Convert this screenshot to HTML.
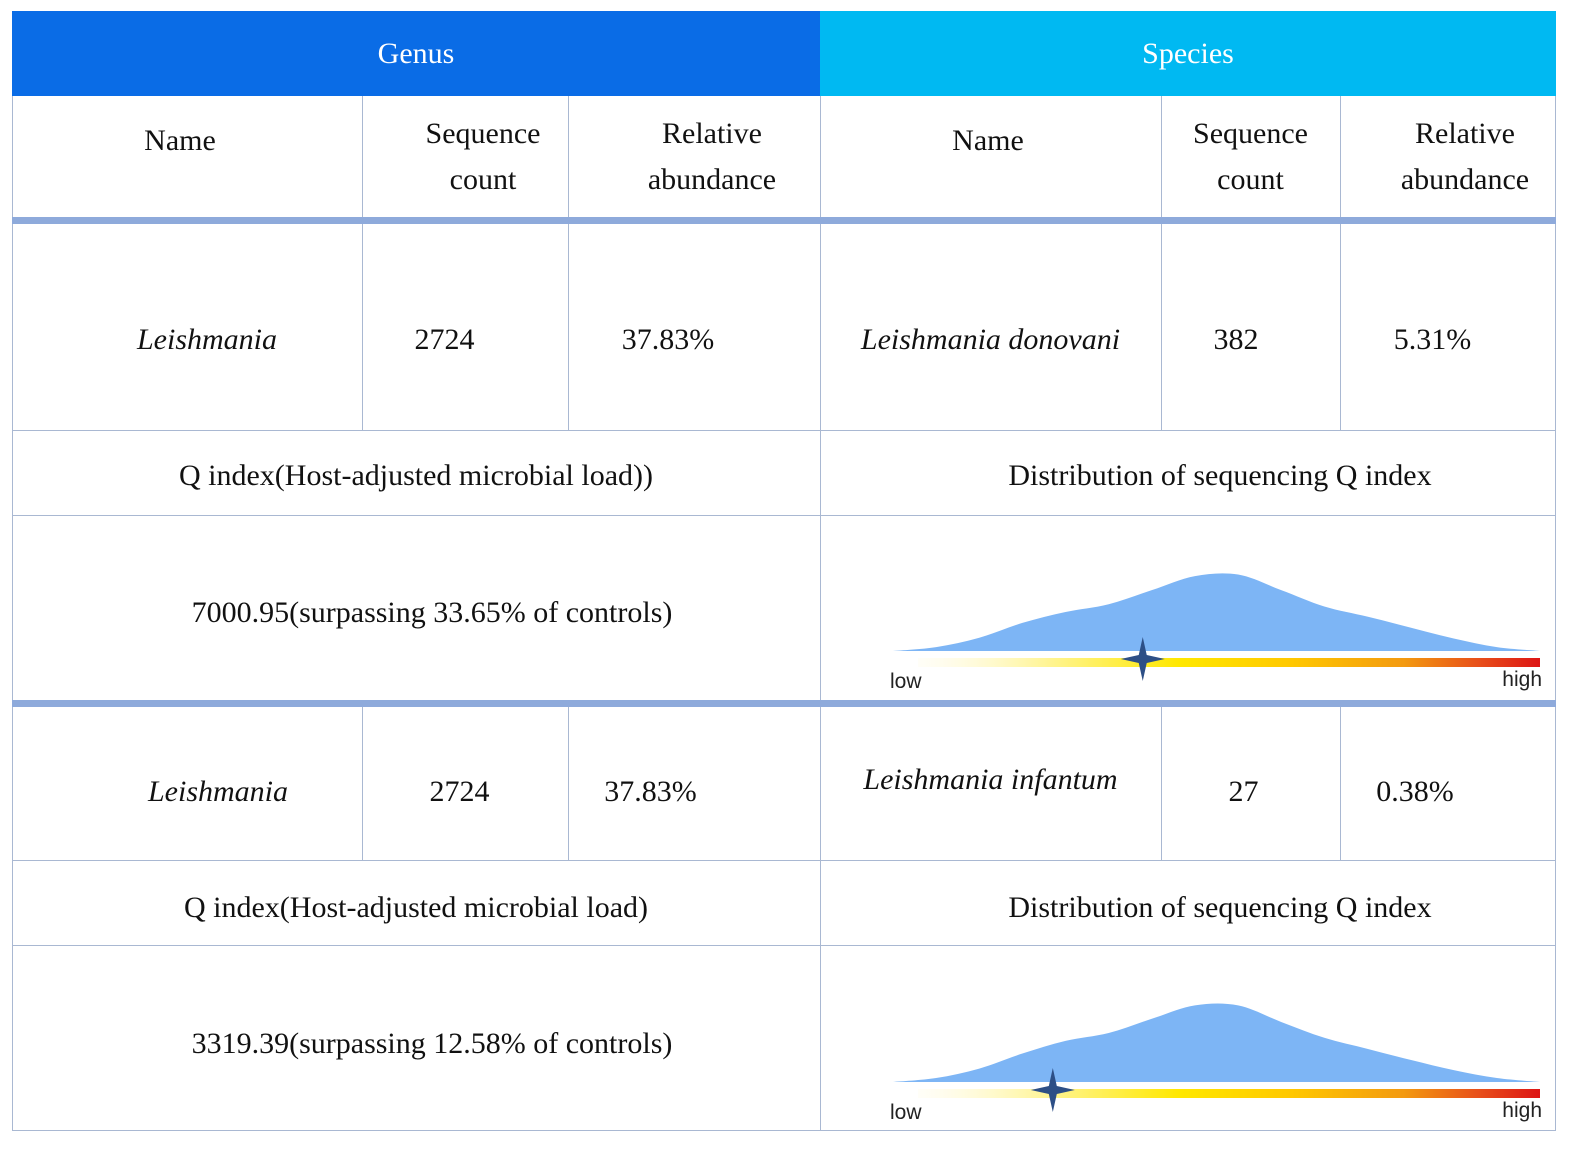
<!DOCTYPE html>
<html><head><meta charset="utf-8"><style>
body{margin:0;width:1591px;height:1158px;background:#fff;position:relative;overflow:hidden;font-family:"Liberation Serif",serif;color:#111}
.c{position:absolute;display:flex;align-items:center;justify-content:center;text-align:center;font-size:30px;line-height:46px;box-sizing:border-box}
.hl{position:absolute;background:#a9b8d2}
.thick{position:absolute;background:#8eaadb}
i{font-style:italic}
</style></head><body>
<div class="c" style="left:12px;top:11px;width:808px;height:85px;background:#0a6ce6;color:#fff">Genus</div>
<div class="c" style="left:820px;top:11px;width:736px;height:85px;background:#00b9f2;color:#fff">Species</div>

<div class="hl" style="left:12px;top:96px;width:1px;height:1035px"></div>
<div class="hl" style="left:1555px;top:96px;width:1px;height:1035px"></div>
<div class="hl" style="left:12px;top:1130px;width:1544px;height:1px"></div>
<div class="hl" style="left:820px;top:96px;width:1px;height:1035px"></div>
<div class="hl" style="left:362px;top:96px;width:1px;height:334px"></div>
<div class="hl" style="left:568px;top:96px;width:1px;height:334px"></div>
<div class="hl" style="left:1161px;top:96px;width:1px;height:334px"></div>
<div class="hl" style="left:1340px;top:96px;width:1px;height:334px"></div>
<div class="hl" style="left:362px;top:707px;width:1px;height:153px"></div>
<div class="hl" style="left:568px;top:707px;width:1px;height:153px"></div>
<div class="hl" style="left:1161px;top:707px;width:1px;height:153px"></div>
<div class="hl" style="left:1340px;top:707px;width:1px;height:153px"></div>
<div class="hl" style="left:12px;top:430px;width:1544px;height:1px"></div>
<div class="hl" style="left:12px;top:515px;width:1544px;height:1px"></div>
<div class="hl" style="left:12px;top:860px;width:1544px;height:1px"></div>
<div class="hl" style="left:12px;top:945px;width:1544px;height:1px"></div>
<div class="thick" style="left:12px;top:217px;width:1544px;height:7px"></div>
<div class="thick" style="left:12px;top:700px;width:1544px;height:7px"></div>

<div class="c" style="left:12px;top:96px;width:336px;height:90px">Name</div>
<div class="c" style="left:380px;top:96px;width:206px;height:122px">Sequence<br>count</div>
<div class="c" style="left:610px;top:96px;width:204px;height:122px">Relative<br>abundance</div>
<div class="c" style="left:820px;top:96px;width:336px;height:90px">Name</div>
<div class="c" style="left:1161px;top:96px;width:179px;height:122px">Sequence<br>count</div>
<div class="c" style="left:1370px;top:96px;width:190px;height:122px">Relative<br>abundance</div>

<div class="c" style="left:12px;top:224px;width:400px;height:230px;left:12px;width:400px;top:224px;height:232px;justify-content:flex-start;padding-left:125px;height:232px"><i>Leishmania</i></div>
<div class="c" style="left:362px;top:224px;width:165px;height:232px">2724</div>
<div class="c" style="left:568px;top:224px;width:200px;height:232px">37.83%</div>
<div class="c" style="left:820px;top:224px;width:341px;height:232px"><i>Leishmania donovani</i></div>
<div class="c" style="left:1161px;top:224px;width:150px;height:232px">382</div>
<div class="c" style="left:1340px;top:224px;width:185px;height:232px">5.31%</div>
<div class="c" style="left:12px;top:430px;width:808px;height:92px">Q index(Host-adjusted microbial load))</div>
<div class="c" style="left:840px;top:430px;width:760px;height:92px">Distribution of sequencing Q index</div>
<div class="c" style="left:12px;top:515px;width:840px;height:195px">7000.95(surpassing 33.65% of controls)</div>

<div class="c" style="left:12px;top:707px;width:412px;height:170px">
<i>Leishmania</i></div>
<div class="c" style="left:362px;top:707px;width:195px;height:170px">2724</div>
<div class="c" style="left:568px;top:707px;width:165px;height:170px">37.83%</div>
<div class="c" style="left:820px;top:707px;width:341px;height:145px"><i>Leishmania infantum</i></div>
<div class="c" style="left:1161px;top:707px;width:165px;height:170px">27</div>
<div class="c" style="left:1340px;top:707px;width:150px;height:170px">0.38%</div>
<div class="c" style="left:12px;top:860px;width:808px;height:95px">Q index(Host-adjusted microbial load)</div>
<div class="c" style="left:840px;top:860px;width:760px;height:95px">Distribution of sequencing Q index</div>
<div class="c" style="left:12px;top:945px;width:840px;height:198px">3319.39(surpassing 12.58% of controls)</div>

<svg id="chart" width="1591" height="1158" style="position:absolute;left:0;top:0">
<defs><linearGradient id="heat" x1="0" x2="1" y1="0" y2="0">
<stop offset="0" stop-color="#fffbe6" stop-opacity="0.3"/><stop offset="0.2" stop-color="#fff59a"/><stop offset="0.42" stop-color="#ffe800"/><stop offset="0.6" stop-color="#ffc800"/><stop offset="0.78" stop-color="#f39a10"/><stop offset="0.9" stop-color="#e8501a"/><stop offset="1" stop-color="#dd1515"/></linearGradient></defs>
</svg>
<script>
var density1=[0,0.05,0.17,0.36,0.5,0.6,0.78,0.96,0.98,0.78,0.57,0.44,0.3,0.16,0.05,0];
var density2=[0,0.05,0.17,0.36,0.52,0.62,0.8,0.97,0.97,0.76,0.56,0.42,0.28,0.15,0.05,0];
var markerPos=[0.386,0.247];
var chartTops=[573,1003];
var x0=893,x1=1540;
var svg=document.getElementById('chart');
var NS='http://www.w3.org/2000/svg';
function xs(t){return x0+t*(x1-x0);}
function draw(dens,base,peak,m,idx){
  var n=dens.length,pts=[];
  for(var i=0;i<n;i++)pts.push([xs(i/(n-1)),base-dens[i]*(base-peak)]);
  var d='M'+pts[0][0]+','+pts[0][1];
  for(i=0;i<n-1;i++){var p0=pts[Math.max(0,i-1)],p1=pts[i],p2=pts[i+1],p3=pts[Math.min(n-1,i+2)];
    d+=' C'+(p1[0]+(p2[0]-p0[0])/6)+','+(p1[1]+(p2[1]-p0[1])/6)+' '+(p2[0]-(p3[0]-p1[0])/6)+','+(p2[1]-(p3[1]-p1[1])/6)+' '+p2[0]+','+p2[1];}
  d+=' Z';
  var a=document.createElementNS(NS,'path');a.setAttribute('d',d);a.setAttribute('fill','#7db5f5');
  
  
  svg.appendChild(a);
  var r=document.createElementNS(NS,'rect');r.setAttribute('x',x0+25);r.setAttribute('y',base+7);r.setAttribute('width',x1-x0-25);r.setAttribute('height',9);r.setAttribute('fill','url(#heat)');
  
  
  svg.appendChild(r);
  var cx=xs(m),cy=base+8;
  var s=document.createElementNS(NS,'path');
  s.setAttribute('d','M'+cx+','+(cy-22)+' L'+(cx+4)+','+(cy-4)+' L'+(cx+22)+','+cy+' L'+(cx+4)+','+(cy+4)+' L'+cx+','+(cy+22)+' L'+(cx-4)+','+(cy+4)+' L'+(cx-22)+','+cy+' L'+(cx-4)+','+(cy-4)+' Z');
  s.setAttribute('fill','#2d4f86');
  
  
  svg.appendChild(s);
  var lo=document.createElementNS(NS,'text');lo.setAttribute('x',890);lo.setAttribute('y',base+37);lo.setAttribute('font-family','Liberation Sans, sans-serif');lo.setAttribute('font-size','21');lo.setAttribute('fill','#222');lo.textContent='low';
  
  
  svg.appendChild(lo);
  var hi=document.createElementNS(NS,'text');hi.setAttribute('x',1542);hi.setAttribute('y',base+35);hi.setAttribute('text-anchor','end');hi.setAttribute('font-family','Liberation Sans, sans-serif');hi.setAttribute('font-size','21');hi.setAttribute('fill','#222');hi.textContent='high';
  
  
  svg.appendChild(hi);
}
draw(density1,651,chartTops[0],markerPos[0],0);
draw(density2,1082,chartTops[1],markerPos[1],1);
</script>
</body></html>
